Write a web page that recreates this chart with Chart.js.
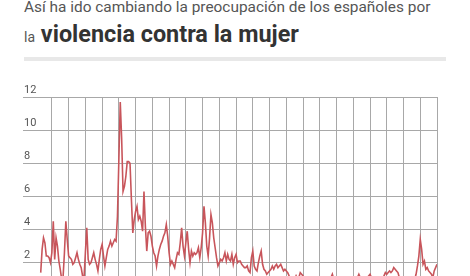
<!DOCTYPE html>
<html><head><meta charset="utf-8">
<script src="https://cdn.jsdelivr.net/npm/chart.js@4"></script>
<style>
html,body{margin:0;padding:0;background:#fff;width:470px;height:276px;overflow:hidden;font-family:Roboto,sans-serif;}
#t1{position:absolute;left:24px;top:-1px;font-size:15.4px;line-height:16px;color:#555;white-space:nowrap;}
#t2{position:absolute;left:24px;top:21px;font-size:23.4px;line-height:27px;color:#333;white-space:nowrap;}
#t2 .s{font-size:14px;color:#555;font-weight:400;}
#t2 b{font-weight:700;}
#bar{position:absolute;left:24px;top:57px;width:422px;height:4px;background:#e8e8e8;}
#wrap{position:absolute;left:0;top:70px;width:470px;height:247px;}
</style></head><body>
<div id="t1">Así ha ido cambiando la preocupación de los españoles por</div>
<div id="t2"><span class="s">la</span> <b>violencia contra la mujer</b></div>
<div id="bar"></div>
<div id="wrap"><canvas id="c"></canvas></div>
<script>
// Monthly series, starting May 2000 (month index 4, zero-based)
const startYear = 2000;
const startMonth = 4;
const values = [
1.4,2.8,3.5,3.2,2.4,2.4,2.3,2.0,2.6,4.5,2.2,3.5,3.0,2.1,1.6,1.0,1.1,2.6,4.5,3.4,
2.4,2.3,2.2,1.9,2.0,2.3,2.6,2.2,1.9,1.7,1.2,1.0,2.6,4.1,2.2,1.9,2.0,2.3,2.6,2.2,
1.9,1.5,2.2,2.8,3.1,2.4,1.8,2.3,2.8,3.0,3.3,3.0,3.2,3.4,3.3,4.8,8.2,11.7,9.5,6.3,
6.6,7.2,8.1,8.1,8.0,5.8,3.8,4.6,5.1,5.4,4.6,4.8,4.5,3.9,6.3,4.2,2.7,3.8,3.9,3.6,
3.0,2.6,2.4,1.8,2.4,2.8,3.1,3.3,3.6,3.8,4.3,3.6,2.6,1.9,2.1,1.9,1.7,2.2,2.6,2.5,
3.2,4.1,3.0,2.4,3.2,3.9,2.8,2.0,2.7,2.4,2.6,2.5,2.6,2.9,2.3,2.9,3.8,5.4,4.4,3.0,
2.4,3.5,4.9,4.4,3.5,2.9,2.3,1.8,2.0,2.2,2.1,2.3,2.6,2.1,2.5,2.2,2.1,2.5,1.9,2.3,
2.5,2.0,2.1,2.1,1.9,1.8,1.7,1.7,1.8,1.5,1.4,2.3,2.7,1.8,1.6,1.5,2.0,2.4,2.7,1.9,
1.6,1.5,1.3,1.4,1.5,1.6,1.8,1.6,1.8,1.9,1.7,1.8,1.9,1.7,1.5,1.6,1.5,1.4,1.2,1.1,
0.9,0.8,1.0,1.2,1.0,1.1,1.4,1.3,1.2,1.0,0.9,0.7,0.8,0.9,0.7,0.6,0.8,0.9,0.7,0.8,
0.6,0.7,0.9,0.8,0.6,0.7,0.9,1.0,1.1,1.3,1.0,0.8,0.7,0.6,0.8,0.7,0.6,0.5,0.7,0.8,
0.6,0.7,0.9,0.8,0.7,0.9,1.0,1.1,1.3,1.1,0.9,0.8,0.9,1.0,1.1,1.2,1.3,1.1,0.9,0.8,
0.7,0.9,0.8,1.0,1.1,1.0,1.2,1.4,1.3,1.4,1.5,1.4,1.5,1.7,1.6,1.5,1.4,1.1,0.9,0.8,
0.9,0.8,0.9,1.0,0.9,1.0,1.1,1.0,1.0,1.3,1.8,2.4,3.4,2.8,1.9,2.1,1.6,1.7,1.5,1.4,
1.3,1.1,1.5,1.7,1.9
];
const yearLabels = ['2001','2002','2003','2004','2005','2006','2007','2008','2009','2010','2011','2012',
'2013','2014','2015','2016','2017','2018','2019','2020','2021','2022','2023','2024'];
const yTickValues = [0,2,4,6,8,10,12];

const firstJan = (12 - startMonth) % 12;
const points = values.map((v, i) => ({x: i, y: v}));
const janIdx = yearLabels.map((y, k) => firstJan + 12 * k);

Chart.defaults.font.family = 'Roboto';
new Chart(document.getElementById('c'), {
  type: 'line',
  data: { datasets: [{ data: points, borderColor: '#c8555b', borderWidth: 1.6, pointRadius: 0, tension: 0, fill: false }] },
  options: {
    responsive: true, maintainAspectRatio: false, animation: false,
    layout: { padding: { top: 27, left: 21, right: 33, bottom: 0 } },
    plugins: { legend: { display: false }, tooltip: { enabled: false } },
    scales: {
      x: {
        type: 'linear', min: -12.7, max: values.length - 1,
        afterBuildTicks: s => { s.ticks = janIdx.map(v => ({ value: v })); },
        grid: { color: '#a8a8a8', lineWidth: 1, drawTicks: false },
        border: { display: false },
        ticks: { color: '#555', font: { size: 11 }, padding: 4, maxRotation: 0, autoSkip: false,
          callback: (v, i) => yearLabels[i] }
      },
      y: {
        min: 0, max: 12,
        afterBuildTicks: s => { s.ticks = yTickValues.map(v => ({ value: v })); },
        grid: { color: '#a8a8a8', lineWidth: 1, drawTicks: false },
        border: { display: false },
        ticks: { mirror: true, padding: 1, labelOffset: -7, color: '#555', font: { size: 11 } }
      }
    }
  }
});
</script>
</body></html>
